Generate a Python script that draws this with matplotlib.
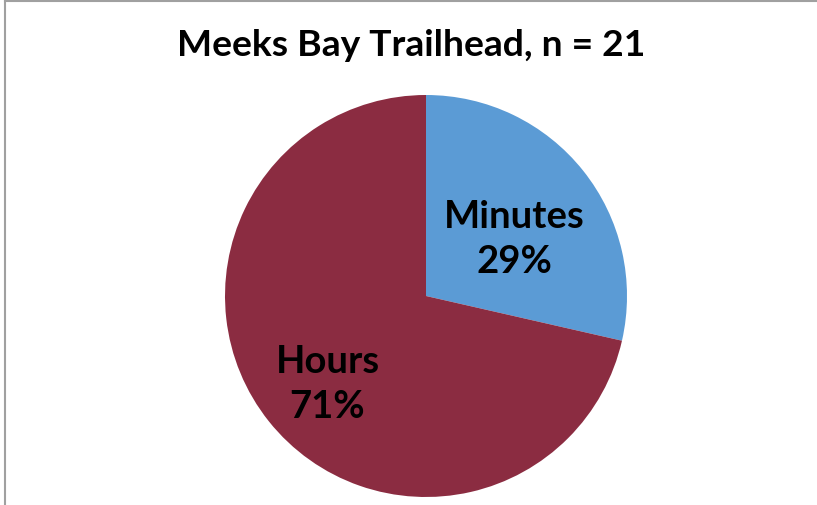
import matplotlib
matplotlib.use("Agg")
import matplotlib.pyplot as plt
from matplotlib.lines import Line2D

# data
categories = ["Minutes", "Hours"]
counts = [6, 15]
percents = ["29%", "71%"]
colors = ["#5b9bd5", "#8b2c41"]
title = "Meeks Bay Trailhead, n = 21"
label_pos = [(0.44, 0.28), (-0.49, -0.44)]

plt.rcParams['font.family'] = ['Lato', 'DejaVu Sans']

fig = plt.figure(figsize=(8.17, 5.05), dpi=100)
ax = fig.add_axes([225 / 817, 8 / 505, 402 / 817, 402 / 505])
ax.pie(counts, colors=colors, startangle=90, counterclock=False,
       wedgeprops=dict(linewidth=0))
ax.set_xlim(-1, 1)
ax.set_ylim(-1, 1)
ax.set_aspect('equal')

for (x, y), cat, pct in zip(label_pos, categories, percents):
    ax.text(x, y, cat + "\n" + pct, ha='center', va='center',
            fontsize=27.5, fontweight='bold', color='black', linespacing=1.38)

fig.text(411 / 817, 1 - 45 / 505, title, ha='center', va='center',
         fontsize=26.8, fontweight='bold')

# chart frame (left and top edges visible)
fig.add_artist(Line2D([5 / 817, 5 / 817], [0, 1], color='#a0a0a0', lw=1.5,
                      transform=fig.transFigure))
fig.add_artist(Line2D([5 / 817, 1], [1 - 0.5 / 505, 1 - 0.5 / 505],
                      color='#a0a0a0', lw=1.5, transform=fig.transFigure))

fig.savefig("out.png", dpi=100)
